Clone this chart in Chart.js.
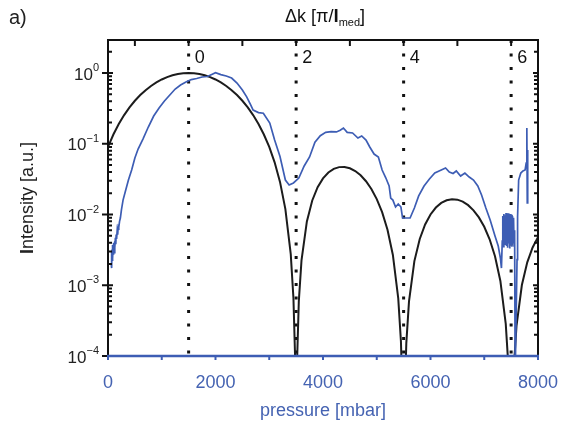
<!DOCTYPE html>
<html>
<head>
<meta charset="utf-8">
<script src="https://cdn.jsdelivr.net/npm/chart.js"></script>
<style>
  html, body { margin: 0; padding: 0; background: #fff; }
  #wrap { width: 561px; height: 437px; position: relative; }
</style>
</head>
<body>
<div id="wrap"><canvas id="myChart"></canvas></div>
<script>
// theory curve (sinc^2 shaped)
const pressureTheory = [0,100,200,300,400,500,600,700,800,900,1000,1100,1200,1300,1400,1500,1600,1700,1800,1900,2000,2100,2200,2300,2400,2500,2600,2700,2800,2900,3000,3100,3200,3300,3400,3450,3480,3500,3520,3550,3600,3700,3800,3900,4000,4100,4200,4300,4400,4500,4600,4700,4800,4900,5000,5100,5200,5300,5400,5450,5480,5500,5520,5550,5600,5700,5800,5900,6000,6100,6200,6300,6400,6500,6600,6700,6800,6900,7000,7100,7200,7300,7400,7450,7480,7500,7520,7550,7600,7700,7800,7900,8000]
const intensityTheory = [0.0901,0.1353,0.1904,0.2546,0.3267,0.4053,0.4881,0.5728,0.6567,0.7368,0.8106,0.8751,0.9281,0.9675,0.9918,1.0,0.9918,0.9675,0.9281,0.8751,0.8106,0.7368,0.6567,0.5728,0.4881,0.4053,0.3267,0.2546,0.1904,0.1353,0.0901,0.0547,0.0289,0.01194,0.002747,0.000656,0.000102,0.000001,0.0000979,0.000594,0.002249,0.007995,0.01579,0.02431,0.03242,0.03924,0.04414,0.04676,0.04701,0.04503,0.04114,0.03580,0.02955,0.02295,0.01654,0.01080,0.006102,0.002680,0.000652,0.000160,0.0000252,0.000001,0.0000247,0.000152,0.000590,0.002194,0.004518,0.007233,0.01001,0.01254,0.01457,0.01591,0.01647,0.01621,0.01520,0.01356,0.01145,0.009097,0.006699,0.004465,0.002571,0.001151,0.000285,0.0000705,0.0000112,0.000001,0.0000110,0.0000682,0.000267,0.001007,0.002105,0.003419,0.004796]

// measured signal
const pressureMeasured = [60,65,70,75,80,85,90,95,100,108,115,122,130,138,145,152,160,170,180,190,200,215,230,250,280,320,380,440,500,560,650,750,850,950,1050,1150,1250,1350,1450,1550,1650,1750,1850,1950,2000,2100,2200,2300,2400,2500,2580,2650,2700,2800,2890,3010,3100,3200,3300,3370,3450,3550,3650,3750,3850,3950,4050,4150,4250,4320,4380,4450,4550,4650,4720,4800,4870,4950,5030,5100,5170,5230,5260,5300,5350,5400,5450,5480,5550,5620,5700,5780,5880,5980,6080,6180,6280,6350,6420,6480,6560,6640,6720,6800,6880,6950,7030,7110,7200,7260,7300,7320,7335,7345,7355,7365,7375,7385,7395,7405,7415,7425,7435,7445,7455,7465,7475,7485,7495,7505,7515,7525,7535,7545,7555,7565,7575,7590,7610,7620,7640,7680,7720,7760,7780,7790,7795,7800,7805,7812]
const intensityMeasured = [0.0020,0.0030,0.00175,0.0032,0.0022,0.0037,0.0024,0.0034,0.0027,0.0040,0.0029,0.0042,0.0034,0.0047,0.0038,0.0052,0.0045,0.0058,0.0052,0.0068,0.0066,0.0080,0.00893,0.01159,0.0160,0.0208,0.0308,0.0426,0.0629,0.0843,0.1167,0.1725,0.2466,0.320,0.402,0.489,0.594,0.676,0.746,0.809,0.836,0.878,0.893,0.968,1.01,0.95,0.908,0.849,0.722,0.575,0.46,0.36,0.30,0.276,0.27,0.196,0.113,0.066,0.0307,0.0261,0.0279,0.0328,0.0485,0.0650,0.105,0.13,0.145,0.148,0.147,0.155,0.167,0.145,0.142,0.1206,0.1288,0.113,0.090,0.0716,0.0650,0.0426,0.0328,0.0253,0.0171,0.0160,0.01276,0.01406,0.01276,0.00893,0.00893,0.00893,0.01236,0.0183,0.0253,0.0318,0.0386,0.0419,0.0454,0.0399,0.0380,0.0412,0.0350,0.0386,0.0339,0.0307,0.0253,0.0189,0.01236,0.00836,0.00497,0.00359,0.00243,0.00175,0.0042,0.0095,0.0035,0.0102,0.0038,0.0098,0.0040,0.0105,0.0036,0.0100,0.0034,0.0104,0.0039,0.0097,0.0033,0.0102,0.0037,0.0099,0.0035,0.0095,0.0040,0.0090,0.0036,0.0060,0.00005,0.00005,0.0023,0.0092,0.0307,0.0386,0.0413,0.0427,0.0535,0.065,0.167,0.01455,0.0816,0.075]

const phaseMatchPressures = [1500, 3500, 5500, 7500]
const pressureTicks = [0, 2000, 4000, 6000, 8000]
const deltaKTicks = [-1, 0, 1, 2, 3, 4, 5, 6]
const deltaKLabels = [0, 2, 4, 6]
const decadeExponents = [0, -1, -2, -3, -4]

const BLUE = '#3d5db4'
const TXT_BLUE = '#4563b2'
const FONT = '"Liberation Sans", Arial, sans-serif'

function toPoints(xs, ys) {
    return xs.map((x, i) => ({ x: x, y: ys[i] }))
}

function drawRuns(ctx, runs, x, y, align) {
    let total = 0
    runs.forEach(r => { ctx.font = r.font; total += ctx.measureText(r.text).width })
    let cx = x
    if (align === 'center') cx = x - total / 2
    if (align === 'right') cx = x - total
    ctx.textAlign = 'left'
    runs.forEach(r => {
        ctx.font = r.font
        ctx.fillText(r.text, cx, y + (r.dy || 0))
        cx += ctx.measureText(r.text).width
    })
}

const axesPlugin = {
    id: 'axesPlugin',
    afterDraw(chart) {
        const ctx = chart.ctx
        const { left, right, top, bottom } = chart.chartArea
        const xs = chart.scales.x, ys = chart.scales.y, ks = chart.scales.k
        ctx.save()
        ctx.lineCap = 'butt'

        // frame: left, top, right black
        ctx.strokeStyle = '#111'
        ctx.lineWidth = 2
        ctx.beginPath()
        ctx.moveTo(left, bottom); ctx.lineTo(left, top); ctx.lineTo(right, top); ctx.lineTo(right, bottom)
        ctx.stroke()

        // y ticks (both sides)
        decadeExponents.forEach(e => {
            const py = ys.getPixelForValue(Math.pow(10, e))
            ctx.beginPath()
            ctx.moveTo(left - 6, py); ctx.lineTo(left + 5, py)
            ctx.moveTo(right - 5, py); ctx.lineTo(right + 1, py)
            ctx.stroke()
            for (let m = 2; m <= 9; m++) {
                const v = m * Math.pow(10, e)
                if (v > ys.max) break
                const my = ys.getPixelForValue(v)
                ctx.beginPath()
                ctx.moveTo(left, my); ctx.lineTo(left + 4, my)
                ctx.moveTo(right - 4, my); ctx.lineTo(right, my)
                ctx.stroke()
            }
        })

        // y tick labels 10^e
        ctx.fillStyle = '#222'
        ctx.textBaseline = 'middle'
        decadeExponents.forEach(e => {
            const py = ys.getPixelForValue(Math.pow(10, e))
            drawRuns(ctx, [
                { text: '10', font: '17px ' + FONT, dy: 2 },
                { text: e === 0 ? '0' : '\u2212' + (-e), font: '11px ' + FONT, dy: -5 }
            ], left - 9, py, 'right')
        })

        // y title
        ctx.save()
        ctx.translate(28, (top + bottom) / 2)
        ctx.rotate(-Math.PI / 2)
        ctx.fillStyle = '#222'
        drawRuns(ctx, [
            { text: 'I', font: 'bold 18px ' + FONT },
            { text: 'ntensity [a.u.]', font: '18px ' + FONT }
        ], 0, 0, 'center')
        ctx.restore()

        // top ticks (delta k)
        ctx.strokeStyle = '#111'
        ctx.lineWidth = 2
        deltaKTicks.forEach(k => {
            const px = ks.getPixelForValue(k)
            ctx.beginPath()
            ctx.moveTo(px, top); ctx.lineTo(px, top + 6)
            ctx.stroke()
        })
        ctx.fillStyle = '#111'
        ctx.font = '18px ' + FONT
        ctx.textAlign = 'left'
        ctx.textBaseline = 'middle'
        deltaKLabels.forEach(k => {
            ctx.fillText(String(k), ks.getPixelForValue(k) + 6, top + 18)
        })

        // top title
        drawRuns(ctx, [
            { text: '\u0394k [\u03c0/', font: '18px ' + FONT },
            { text: 'l', font: 'bold 19px ' + FONT },
            { text: 'med', font: '11px ' + FONT, dy: 6 },
            { text: ']', font: '18px ' + FONT }
        ], (left + right) / 2 + 2, 17, 'center')

        // bottom axis, blue
        ctx.strokeStyle = BLUE
        ctx.lineWidth = 2.5
        ctx.beginPath()
        ctx.moveTo(left - 1, bottom); ctx.lineTo(right + 1, bottom)
        ctx.stroke()
        ctx.lineWidth = 2
        for (let p = xs.min; p <= xs.max; p += 1000) {
            const px = xs.getPixelForValue(p)
            ctx.beginPath()
            ctx.moveTo(px, bottom); ctx.lineTo(px, bottom + 4)
            ctx.stroke()
        }
        ctx.fillStyle = TXT_BLUE
        ctx.font = '18px ' + FONT
        ctx.textAlign = 'center'
        ctx.textBaseline = 'middle'
        pressureTicks.forEach(p => {
            ctx.fillText(String(p), xs.getPixelForValue(p), bottom + 27)
        })
        ctx.fillText('pressure [mbar]', (left + right) / 2, 411)

        // panel label
        ctx.fillStyle = '#222'
        ctx.font = '20px ' + FONT
        ctx.textAlign = 'left'
        ctx.fillText('a)', 9, 18)
        ctx.restore()
    }
}

const dottedSets = phaseMatchPressures.map(p => ({
    data: [{ x: p, y: 2.93 }, { x: p, y: 0.0001 }],
    borderColor: '#111',
    borderWidth: 3,
    borderDash: [3, 10.5],
    pointRadius: 0
}))

new Chart(document.getElementById('myChart'), {
    type: 'line',
    data: {
        datasets: [
            {
                label: 'measured',
                data: toPoints(pressureMeasured, intensityMeasured),
                borderColor: BLUE,
                borderWidth: 1.7,
                pointRadius: 0,
                tension: 0
            },
            {
                label: 'theory',
                data: toPoints(pressureTheory, intensityTheory),
                borderColor: '#1c1c1c',
                borderWidth: 2,
                pointRadius: 0,
                tension: 0
            },
            ...dottedSets
        ]
    },
    options: {
        responsive: true,
        maintainAspectRatio: false,
        animation: false,
        layout: { padding: { left: 108, right: 23, top: 40, bottom: 81 } },
        plugins: { legend: { display: false }, tooltip: { enabled: false } },
        scales: {
            x: { type: 'linear', min: 0, max: 8000, display: false },
            k: { type: 'linear', position: 'top', min: -1.5, max: 6.5, display: false },
            y: { type: 'logarithmic', min: 0.0001, max: 2.93, display: false }
        }
    },
    plugins: [axesPlugin]
})
</script>
</body>
</html>
